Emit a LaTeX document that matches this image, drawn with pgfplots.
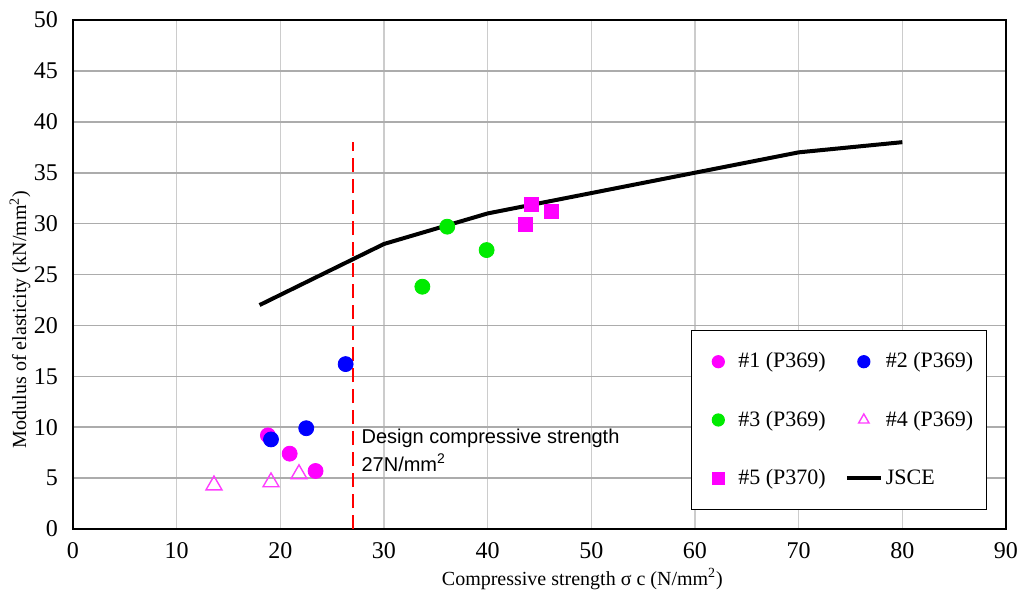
\documentclass[border=0pt]{standalone}
\usepackage{fontspec}
\setmainfont{Liberation Serif}
\newfontfamily\sansf{Liberation Sans}
\usepackage{pgfplots}
\pgfplotsset{compat=1.18}

\definecolor{mag}{RGB}{255,0,255}
\definecolor{blu}{RGB}{0,0,255}
\definecolor{grn}{RGB}{0,235,0}
\definecolor{tri}{RGB}{255,60,255}

\pgfplotsset{
  mleg/.style={legend image code/.code={
    \path[draw=none] (0cm,0cm) (0.6cm,0cm);
    \draw[mark size=3pt] plot coordinates {(0.3cm,0cm)};}},
}

\begin{document}
\begin{tikzpicture}
\begin{axis}[
  at={(0,0)}, anchor=south west,
  scale only axis, width=466.5pt, height=254.5pt,
  xmin=0, xmax=90, ymin=0, ymax=50,
  xtick distance=10, ytick distance=5,
  xmajorgrids, ymajorgrids,
  x grid style={gray!40, line width=0.8pt},
  y grid style={gray!65, line width=0.8pt},
  axis line style={line width=0.8pt},
  tick style={draw=none},
  ticklabel style={font=\fontsize{12}{14}\selectfont},
  xticklabel style={yshift=-3pt},
  yticklabel style={xshift=-4pt},
  /pgf/number format/assume math mode=true,
  xlabel={Compressive strength σ c (N/mm\textsuperscript{2})},
  ylabel={Modulus of elasticity (kN/mm\textsuperscript{2})},
  label style={font=\fontsize{12}{14}\selectfont},
  every axis x label/.style={at={(axis description cs:0.546,0)}, yshift=-25pt, anchor=center},
  every axis y label/.style={at={(axis description cs:0,0.412)}, xshift=-26.5pt, rotate=90, anchor=center},
  legend columns=2,
  legend cell align=left,
  legend style={at={(0.662,0.391)}, anchor=north west, draw=black, line width=0.6pt,
    font=\fontsize{11}{13}\selectfont, row sep=16pt, inner xsep=5pt, inner ysep=9pt,
    nodes={inner xsep=1.5pt},
    /tikz/every even column/.append style={column sep=8pt}},
]
% JSCE curve (drawn first, listed last)
\addplot[black, line width=2pt, forget plot] coordinates {
  (18,22) (24,25) (30,28) (40,31) (50,33) (60,35) (70,37) (80,38)};

\addplot[only marks, mark=*, mark size=3.75pt, color=mag, mleg] coordinates {
  (18.8,9.2) (20.9,7.4) (23.4,5.7)};
\addlegendentry{\#1 (P369)}
\addplot[only marks, mark=*, mark size=3.75pt, color=blu, mleg] coordinates {
  (19.1,8.8) (22.5,9.9) (26.3,16.2)};
\addlegendentry{\#2 (P369)}
\addplot[only marks, mark=*, mark size=3.75pt, color=grn, mleg] coordinates {
  (33.7,23.8) (36.1,29.7) (39.9,27.4)};
\addlegendentry{\#3 (P369)}
\addplot[only marks, mark=triangle, mark size=4.6pt, color=tri, mark options={line width=0.7pt}, mleg] coordinates {
  (13.6,4.3) (19.1,4.6) (21.8,5.4)};
\addlegendentry{\#4 (P369)}
\addplot[only marks, mark=square*, mark size=3.5pt, color=mag, mleg] coordinates {
  (44.2,31.9) (46.1,31.2) (43.6,29.9)};
\addlegendentry{\#5 (P370)}
\addlegendimage{black, line width=2pt}
\addlegendentry{JSCE}

% design strength line
\addplot[red, line width=1.2pt, dash pattern=on 7pt off 3.5pt, forget plot] coordinates {(27,0) (27,38)};
\node[anchor=west, font=\sansf\fontsize{10}{12}\selectfont, inner sep=0pt] at (axis cs:27.8,8.9) {Design compressive strength};
\node[anchor=west, font=\sansf\fontsize{10}{12}\selectfont, inner sep=0pt] at (axis cs:27.8,6.5) {27N/mm\textsuperscript{2}};
\end{axis}
\pgfresetboundingbox
\path[use as bounding box] (-36.5pt,-33.5pt) rectangle (475.5pt,264.5pt);
\end{tikzpicture}
\end{document}
